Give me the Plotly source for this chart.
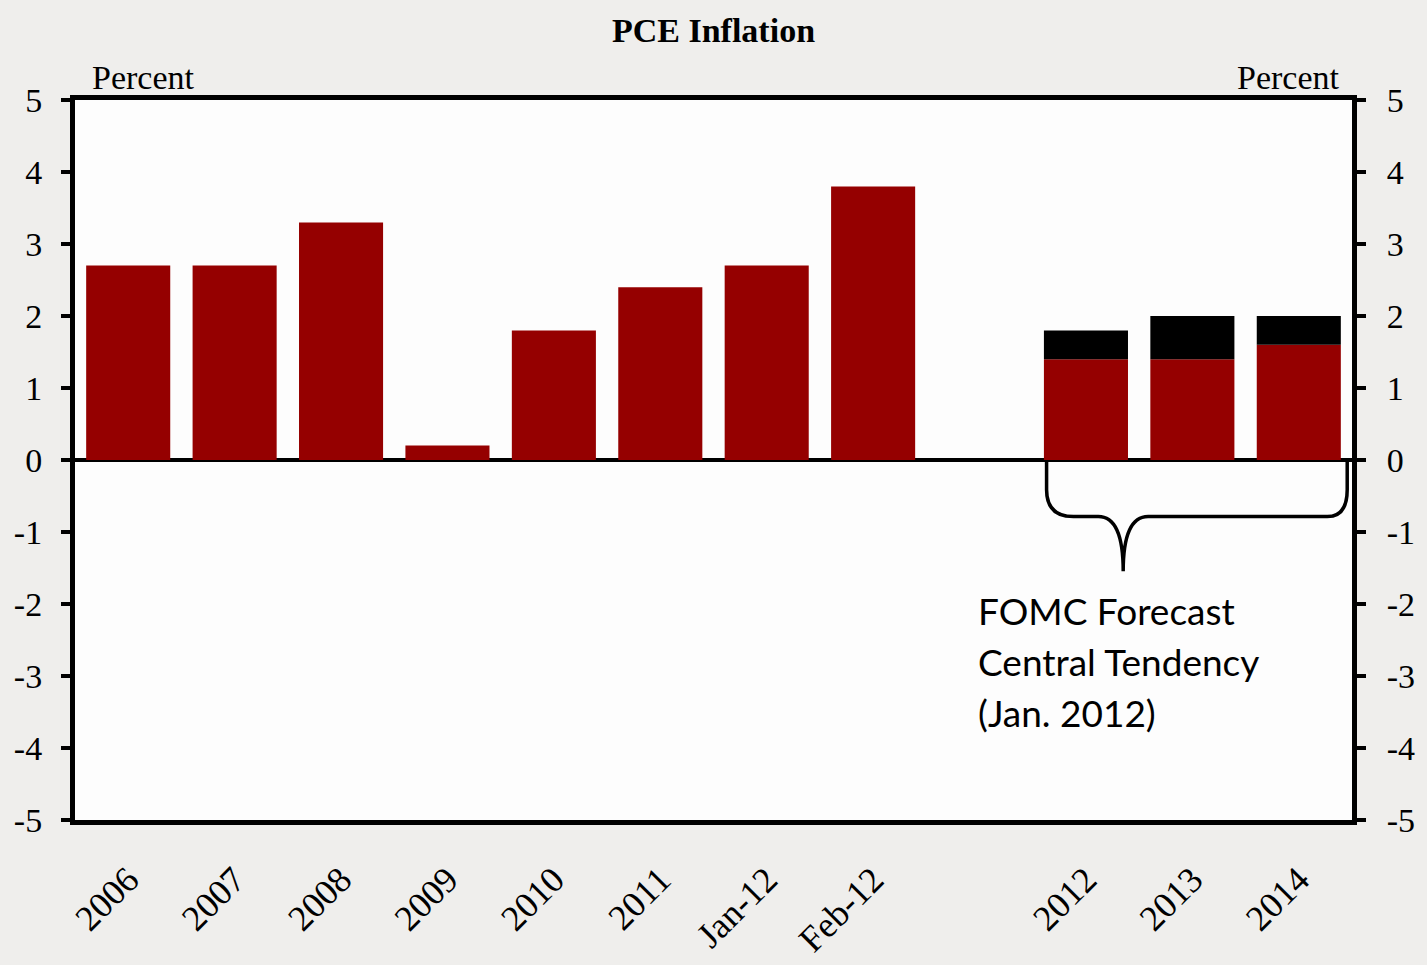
import plotly.graph_objects as go

categories = ["2006", "2007", "2008", "2009", "2010", "2011", "Jan-12", "Feb-12", " ", "2012", "2013", "2014"]
actual_or_low = [2.7, 2.7, 3.3, 0.2, 1.8, 2.4, 2.7, 3.8, None, 1.4, 1.4, 1.6]
forecast_high = [None, None, None, None, None, None, None, None, None, 1.8, 2.0, 2.0]
y_ticks = [-5, -4, -3, -2, -1, 0, 1, 2, 3, 4, 5]
y_tick_labels = ["-5", "-4", "-3", "-2", "-1", "0", "1", "2", "3", "4", "5"]

# brace annotation (category index, percent)
brace_x = [8.63, 8.883, 9.116, 9.35, 9.584, 11.268, 11.455]
brace_y = [0, -0.414, -0.786, -1.545]

RED = "#950000"
serif = "Liberation Serif, Times New Roman, serif"

band = [(h - l) if (h is not None and l is not None) else None for h, l in zip(forecast_high, actual_or_low)]

fig = go.Figure()
fig.add_trace(go.Bar(x=categories, y=actual_or_low, marker=dict(color=RED, line=dict(width=0)),
                     yaxis="y", showlegend=False))
fig.add_trace(go.Bar(x=categories, y=band, base=[l if b is not None else None for l, b in zip(actual_or_low, band)],
                     marker=dict(color="#000000", line=dict(width=0)), yaxis="y2", showlegend=False))

bx, by = brace_x, brace_y
path = (f"M {bx[0]},{by[0]} L {bx[0]},{by[1]} Q {bx[0]},{by[2]} {bx[1]},{by[2]} "
        f"L {bx[2]},{by[2]} Q {bx[3]},{by[2]} {bx[3]},{by[3]} "
        f"Q {bx[3]},{by[2]} {bx[4]},{by[2]} L {bx[5]},{by[2]} "
        f"Q {bx[6]},{by[2]} {bx[6]},{by[1]} L {bx[6]},{by[0]}")
fig.add_shape(type="path", path=path, xref="x", yref="y", line=dict(color="black", width=3.5))

ML, MR, MT, MB = 75, 75, 100, 145
PW, PH = 1427 - ML - MR, 965 - MT - MB

yax = dict(range=[-5, 5], tickvals=y_ticks, ticktext=y_tick_labels, ticks="outside", ticklen=9, tickwidth=4,
           tickcolor="black", showline=True, linewidth=5, linecolor="black", showgrid=False, automargin=False,
           tickfont=dict(family=serif, size=34, color="black"), ticklabelstandoff=12)
fig.update_layout(
    width=1427, height=965,
    margin=dict(l=ML, r=MR, t=MT, b=MB, autoexpand=False),
    paper_bgcolor="#efeeec", plot_bgcolor="#fdfdfd",
    barmode="overlay", bargap=0.21,
    title=dict(text="<b>PCE Inflation</b>", x=0.5, xanchor="center", y=1 - 30 / 965, yanchor="middle",
               font=dict(family=serif, size=34, color="black")),
    xaxis=dict(type="category", categoryorder="array", categoryarray=categories, range=[-0.5, 11.5],
               showline=True, mirror=True, linewidth=5, linecolor="black", ticks="", showgrid=False,
               automargin=False,
               tickangle=-45, tickfont=dict(family=serif, size=36, color="black"), ticklabelstandoff=19),
    yaxis=dict(**yax, zeroline=True, zerolinewidth=4, zerolinecolor="black", mirror=True),
    yaxis2=dict(**{**yax, "ticklabelstandoff": 14}, overlaying="y", side="right", zeroline=False),
)

fig.add_annotation(text="Percent", xref="paper", yref="paper", x=(90 - ML) / PW, y=1.0, xanchor="left",
                   yanchor="bottom", showarrow=False, font=dict(family=serif, size=34, color="black"), yshift=2)
fig.add_annotation(text="Percent", xref="paper", yref="paper", x=(1342 - ML) / PW, y=1.0, xanchor="right",
                   yanchor="bottom", showarrow=False, font=dict(family=serif, size=34, color="black"), yshift=2)

note_lines = ["FOMC Forecast", "Central Tendency", "(Jan. 2012)"]
for i, t in enumerate(note_lines):
    fig.add_annotation(text=t, xref="paper", yref="paper", x=(976 - ML) / PW, y=(965 - MB - 610 - 51 * i) / PH,
                       xanchor="left", yanchor="middle", showarrow=False, align="left",
                       font=dict(family="Lato, Carlito, sans-serif", size=37, color="black"))

fig.write_html("out.html", config={"displayModeBar": False},
               post_script="document.body.style.margin='0';document.body.style.overflow='hidden';")
